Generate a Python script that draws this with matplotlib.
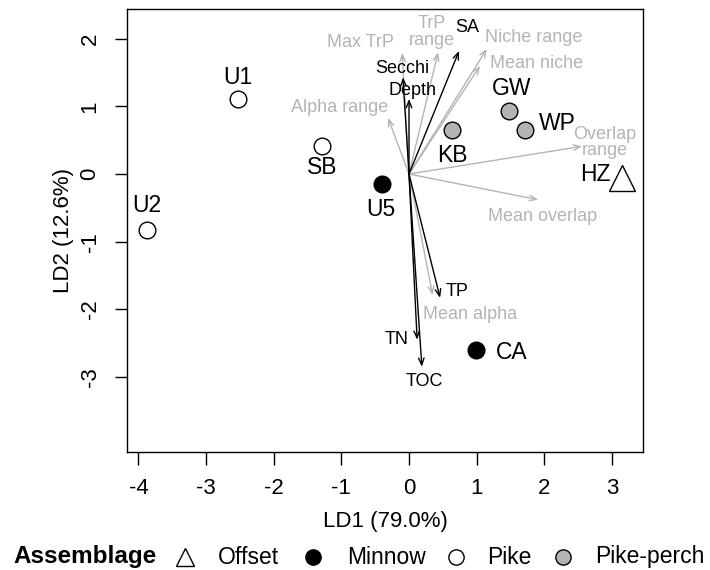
import matplotlib
matplotlib.use('Agg')
import matplotlib.pyplot as plt
from matplotlib.lines import Line2D

plt.rcParams['font.family'] = ['Liberation Sans', 'DejaVu Sans']
plt.rcParams['axes.unicode_minus'] = False

# site scores on LD1 / LD2
sites = ['U1', 'U2', 'SB', 'U5', 'KB', 'GW', 'WP', 'HZ', 'CA']
ld1 = [-2.53, -3.88, -1.29, -0.40, 0.64, 1.48, 1.71, 3.15, 0.99]
ld2 = [1.11, -0.83, 0.41, -0.15, 0.65, 0.93, 0.65, -0.06, -2.60]
group = ['Pike', 'Pike', 'Pike', 'Minnow', 'Pike-perch', 'Pike-perch',
         'Pike-perch', 'Offset', 'Minnow']
# where each site name sits (data coords)
site_lab_x = [-2.53, -3.88, -1.29, -0.41, 0.64, 1.51, 2.19, 2.76, 1.52]
site_lab_y = [1.43, -0.46, 0.09, -0.53, 0.28, 1.27, 0.75, -0.01, -2.64]

# environmental vectors (black)
env_names = ['Secchi', 'Depth', 'SA', 'TP', 'TN', 'TOC']
env_x = [-0.09, 0.00, 0.74, 0.46, 0.12, 0.19]
env_y = [1.43, 1.11, 1.82, -1.83, -2.45, -2.85]
env_lab_x = [-0.10, 0.05, 0.86, 0.71, -0.19, 0.22]
env_lab_y = [1.56, 1.24, 2.16, -1.74, -2.45, -3.07]

# food-web metric vectors (grey)
fw_names = ['Max TrP', 'TrP\nrange', 'Niche range', 'Mean niche', 'Alpha range',
            'Overlap\nrange', 'Mean overlap', 'Mean alpha']
fw_x = [-0.10, 0.43, 1.15, 1.05, -0.31, 2.56, 1.91, 0.35]
fw_y = [1.79, 1.80, 1.85, 1.60, 0.83, 0.41, -0.38, -1.79]
fw_lab_x = [-0.72, 0.34, 1.85, 1.89, -1.02, 2.90, 1.97, 0.90]
fw_lab_y = [1.94, 2.10, 2.02, 1.64, 0.99, 0.47, -0.63, -2.08]

groups = ['Offset', 'Minnow', 'Pike', 'Pike-perch']
marker = {'Offset': '^', 'Minnow': 'o', 'Pike': 'o', 'Pike-perch': 'o'}
face = {'Offset': 'white', 'Minnow': 'black', 'Pike': 'white', 'Pike-perch': '#b3b3b3'}
msize = {'Offset': 19, 'Minnow': 12, 'Pike': 12, 'Pike-perch': 12}

grey = '#b4b4b4'
W, H = 710.0, 570.0

fig = plt.figure(figsize=(7.1, 5.7), dpi=100)
ax = fig.add_axes([127 / W, 1 - 452 / H, (643 - 127) / W, (452 - 9) / H])

def arrow(x, y, col):
    ax.annotate('', xy=(x, y), xytext=(0, 0),
                arrowprops=dict(arrowstyle='->,head_length=0.5,head_width=0.2',
                                color=col, lw=1.0, shrinkA=0, shrinkB=0))

for i in range(len(fw_names)):
    arrow(fw_x[i], fw_y[i], grey)
    ax.text(fw_lab_x[i], fw_lab_y[i], fw_names[i], color=grey, fontsize=13,
            ha='center', va='center', linespacing=0.95)

for i in range(len(env_names)):
    arrow(env_x[i], env_y[i], 'black')
    ax.text(env_lab_x[i], env_lab_y[i], env_names[i], color='black', fontsize=13,
            ha='center', va='center')

for i in range(len(sites)):
    g = group[i]
    ax.plot(ld1[i], ld2[i], marker=marker[g], ms=msize[g], mfc=face[g],
            mec='black', mew=1.0, ls='none')
    ax.text(site_lab_x[i], site_lab_y[i], sites[i], fontsize=16.5,
            ha='center', va='center')

ax.set_xlim(-4.17, 3.46)
ax.set_ylim(-4.11, 2.44)
ax.set_xticks([-4, -3, -2, -1, 0, 1, 2, 3])
ax.set_yticks([-3, -2, -1, 0, 1, 2])
ax.tick_params(direction='out', length=9, width=1, labelsize=16, pad=10)
for lab in ax.get_yticklabels():
    lab.set_rotation(90)
    lab.set_va('center')
ax.set_xlabel('LD1 (79.0%)', fontsize=16, labelpad=8)
ax.set_ylabel('LD2 (12.6%)', fontsize=16, labelpad=4)
for s in ax.spines.values():
    s.set_linewidth(1.0)

# legend row along the bottom
leg_y = 1 - 557 / H
fig.text(13 / W, leg_y, 'Assemblage', fontsize=17.5, fontweight='bold',
         ha='left', va='center')
leg_mark_x = [185, 313, 456, 563]
leg_text_x = [218, 347, 487, 595]
for g, mx, tx in zip(groups, leg_mark_x, leg_text_x):
    fig.add_artist(Line2D([mx / W], [leg_y], transform=fig.transFigure,
                          marker=marker[g], ls='none', mfc=face[g], mec='black',
                          ms=13 if g == 'Offset' else 11, mew=1.0))
    fig.text(tx / W, leg_y, g, fontsize=16.5, ha='left', va='center')

fig.savefig('out.png', dpi=100)
